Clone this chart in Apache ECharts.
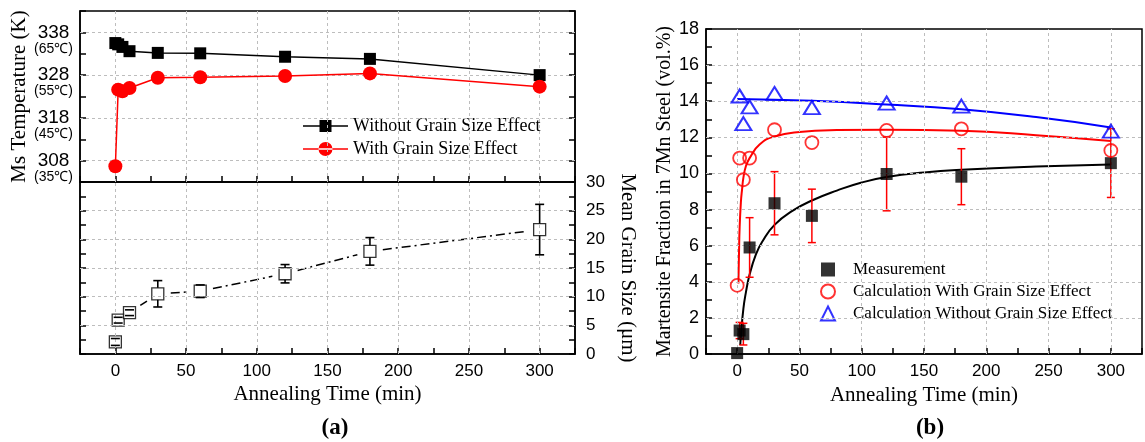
<!DOCTYPE html>
<html>
<head>
<meta charset="utf-8">
<script src="https://cdn.jsdelivr.net/npm/echarts@6/dist/echarts.min.js"></script>
<style>
  html, body { margin: 0; padding: 0; background: #fff; }
  #chart { width: 1145px; height: 442px; }
</style>
</head>
<body>
<div id="chart"></div>
<script>
// Annealing times (min) shared by panel (a) and (b)
const annealTime = [0, 2, 5, 10, 30, 60, 120, 180, 300];

// (a) Ms temperature (K)
const msWithoutGS = [335.5, 335.2, 334.6, 333.6, 333.2, 333.1, 332.3, 331.8, 328.0];
const msWithGS = [306.7, 324.6, 324.2, 325.0, 327.4, 327.5, 327.8, 328.4, 325.3];
const msTickValues = [308, 318, 328, 338];
const msTickCelsius = ['(35℃)', '(45℃)', '(55℃)', '(65℃)'];

// (a) mean grain size (μm) with error
const grainTime = [0, 2, 10, 30, 60, 120, 180, 300];
const grainSize = [2.1, 5.9, 7.2, 10.5, 10.95, 14.0, 17.9, 21.7];
const grainErr = [0.6, 0.5, 0.5, 2.3, 1.1, 1.6, 2.4, 4.4];
const grainTickValues = [0, 5, 10, 15, 20, 25, 30];

// (b) martensite fraction (vol.%)
const measFraction = [0.05, 1.3, 1.1, 5.9, 8.35, 7.65, 9.97, 9.82, 10.57];
const measErr = [0, 0.45, 0.6, 1.65, 1.75, 1.48, 2.04, 1.55, 1.9];
const calcWithGS = [3.8, 10.85, 9.65, 10.85, 12.42, 11.71, 12.38, 12.47, 11.27];
const calcWithoutTime = [2, 5, 10, 30, 60, 120, 180, 300];
const calcWithoutGS = [14.29, 12.76, 13.69, 14.43, 13.65, 13.9, 13.73, 12.34];
const fracTickValues = [0, 2, 4, 6, 8, 10, 12, 14, 16, 18];

// (b) trend curves
const trendMeasTime = [2.5, 3, 5, 7, 10, 15, 20, 30, 45, 60, 80, 100, 120, 150, 180, 240, 300];
const trendMeasVal = [0.5, 1.0, 2.5, 3.4, 4.4, 5.5, 6.2, 7.15, 7.95, 8.5, 9.05, 9.5, 9.8, 10.05, 10.2, 10.38, 10.5];
const trendWithTime = [1, 1.5, 2, 3, 4, 5, 7, 10, 18, 30, 50, 80, 120, 180, 240, 300];
const trendWithVal = [3.9, 5.6, 7.0, 8.4, 9.15, 9.75, 10.4, 10.85, 11.6, 12.05, 12.3, 12.4, 12.42, 12.36, 12.12, 11.8];
const trendWithoutTime = [0, 60, 120, 180, 240, 300];
const trendWithoutVal = [14.12, 14.02, 13.82, 13.55, 13.12, 12.55];

const timeTickValues = [0, 50, 100, 150, 200, 250, 300];

const SANS = '"Liberation Sans", Arial, sans-serif';
const SERIF = '"Liberation Serif", "Times New Roman", serif';
const GRID_LINE = { color: '#bdbdbd', width: 1, type: [3, 3] };

// legend icons: a short line with the marker on it
const ICON_LINE_SQUARE = 'path://M0,6.3h45v1.4h-45z M16.5,1h12v12h-12z';
const ICON_LINE_CIRCLE = 'path://M0,6.3h45v1.4h-45z M15.5,7a7,7 0 1,0 14,0a7,7 0 1,0 -14,0z';

const zip = (xs, ys) => xs.map((x, i) => [x, ys[i]]);
const isTick = (list, v) => list.some(t => Math.abs(t - v) < 1e-6);

function gridLines(yVals, xVals) {
  return {
    silent: true, symbol: ['none', 'none'], animation: false,
    label: { show: false }, lineStyle: GRID_LINE, emphasis: { disabled: true },
    data: yVals.map(v => ({ yAxis: v })).concat(xVals.map(v => ({ xAxis: v })))
  };
}

const tickStyle = () => ({ show: true, inside: true, length: 6, lineStyle: { color: '#000', width: 1.5 } });
const frameLine = () => ({ show: true, onZero: false, lineStyle: { color: '#000', width: 1.5 } });

function timeAxis(gridIndex, labelled) {
  return {
    type: 'value', gridIndex, min: -25, max: 325, interval: 25,
    axisLine: frameLine(), splitLine: { show: false }, axisTick: tickStyle(),
    axisLabel: labelled ? {
      show: true, margin: 9, color: '#000', fontFamily: SANS, fontSize: 17,
      formatter: v => isTick(timeTickValues, v) ? String(Math.round(v)) : ''
    } : { show: false },
    name: labelled ? 'Annealing Time (min)' : '',
    nameLocation: 'middle', nameGap: 30,
    nameTextStyle: { fontFamily: SERIF, fontSize: 21, color: '#000' }
  };
}

// error bars drawn from the marker edge outward (panel a)
function grainErrorBar(params, api) {
  const x = api.value(0), y = api.value(1), e = api.value(2);
  const c = api.coord([x, y]), hi = api.coord([x, y + e]), lo = api.coord([x, y - e]);
  const half = 6, cap = 4.5;
  const style = { stroke: '#000', lineWidth: 1.6 };
  const children = [];
  if (c[1] - hi[1] > half) children.push({ type: 'line', shape: { x1: c[0], y1: c[1] - half, x2: c[0], y2: hi[1] }, style });
  if (lo[1] - c[1] > half) children.push({ type: 'line', shape: { x1: c[0], y1: c[1] + half, x2: c[0], y2: lo[1] }, style });
  children.push({ type: 'line', shape: { x1: c[0] - cap, y1: hi[1], x2: c[0] + cap, y2: hi[1] }, style });
  children.push({ type: 'line', shape: { x1: c[0] - cap, y1: lo[1], x2: c[0] + cap, y2: lo[1] }, style });
  return { type: 'group', children };
}

// dash-dot connector that stops short of each marker
function grainConnector(params, api) {
  const a = api.coord([api.value(0), api.value(1)]);
  const b = api.coord([api.value(2), api.value(3)]);
  const dx = b[0] - a[0], dy = b[1] - a[1], len = Math.hypot(dx, dy);
  const gap = 13;
  if (len <= 2 * gap + 2) return { type: 'group', children: [] };
  const ux = dx / len, uy = dy / len;
  return {
    type: 'line',
    shape: { x1: a[0] + ux * gap, y1: a[1] + uy * gap, x2: b[0] - ux * gap, y2: b[1] - uy * gap },
    style: { stroke: '#000', lineWidth: 1.5, lineDash: [9, 4, 2, 4] }
  };
}

// full error bars (panel b)
function fractionErrorBar(params, api) {
  const x = api.value(0), y = api.value(1), e = api.value(2);
  if (!e) return { type: 'group', children: [] };
  const hi = api.coord([x, y + e]), lo = api.coord([x, y - e]);
  const cap = 4;
  const style = { stroke: '#ff0000', lineWidth: 1.5 };
  return {
    type: 'group', children: [
      { type: 'line', shape: { x1: hi[0], y1: hi[1], x2: lo[0], y2: lo[1] }, style },
      { type: 'line', shape: { x1: hi[0] - cap, y1: hi[1], x2: hi[0] + cap, y2: hi[1] }, style },
      { type: 'line', shape: { x1: lo[0] - cap, y1: lo[1], x2: lo[0] + cap, y2: lo[1] }, style }
    ]
  };
}

const grainSegments = grainTime.slice(0, -1).map((t, i) => [t, grainSize[i], grainTime[i + 1], grainSize[i + 1]]);

const frame = { show: true, borderColor: '#000', borderWidth: 1.5, backgroundColor: 'transparent' };

const option = {
  animation: false,
  backgroundColor: '#fff',
  title: [
    { text: '(a)', left: 330, top: 412, textAlign: 'center',
      textStyle: { fontFamily: SERIF, fontWeight: 'bold', fontSize: 23, color: '#000' } },
    { text: '(b)', left: 925, top: 412, textAlign: 'center',
      textStyle: { fontFamily: SERIF, fontWeight: 'bold', fontSize: 23, color: '#000' } }
  ],
  grid: [
    Object.assign({ left: 80, top: 11, width: 495, height: 171 }, frame),
    Object.assign({ left: 80, top: 182, width: 495, height: 172 }, frame),
    Object.assign({ left: 706, top: 29, width: 437, height: 325 }, frame)
  ],
  legend: [
    {
      data: [
        { name: 'Without Grain Size Effect', icon: ICON_LINE_SQUARE },
        { name: 'With Grain Size Effect', icon: ICON_LINE_CIRCLE }
      ],
      orient: 'vertical', left: 298, top: 112, itemWidth: 45, itemHeight: 14, itemGap: 5,
      textStyle: { fontFamily: SERIF, fontSize: 18, color: '#000' }, selectedMode: false
    },
    {
      data: ['Measurement', 'Calculation With Grain Size Effect', 'Calculation Without Grain Size Effect'],
      orient: 'vertical', left: 815, top: 256, itemWidth: 14, itemHeight: 14, itemGap: 5,
      textStyle: { fontFamily: SERIF, fontSize: 17, color: '#000', padding: [0, 0, 0, 13] },
      selectedMode: false
    }
  ],
  xAxis: [timeAxis(0, false), timeAxis(1, true), timeAxis(2, true)],
  yAxis: [
    {
      type: 'value', gridIndex: 0, min: 303, max: 343, interval: 5,
      axisLine: frameLine(), splitLine: { show: false }, axisTick: tickStyle(),
      axisLabel: {
        margin: 7, padding: [15, 0, 0, 0], color: '#000',
        formatter: v => {
          const i = msTickValues.findIndex(t => Math.abs(t - v) < 1e-6);
          return i < 0 ? '' : '{k|' + msTickValues[i] + '}\n{c|' + msTickCelsius[i] + '}';
        },
        rich: {
          k: { fontFamily: SANS, fontSize: 19, lineHeight: 18, align: 'center', color: '#000' },
          c: { fontFamily: SANS, fontSize: 14, lineHeight: 15, align: 'center', color: '#000' }
        }
      },
      name: 'Ms Temperature (K)', nameLocation: 'middle', nameGap: 50,
      nameTextStyle: { fontFamily: SERIF, fontSize: 21, color: '#000' }
    },
    {
      type: 'value', gridIndex: 0, position: 'right', min: 303, max: 343, interval: 5,
      axisLine: frameLine(), splitLine: { show: false }, axisTick: tickStyle(),
      axisLabel: { show: false }
    },
    {
      type: 'value', gridIndex: 1, min: 0, max: 30, interval: 2.5,
      axisLine: frameLine(), splitLine: { show: false }, axisTick: tickStyle(),
      axisLabel: { show: false }
    },
    {
      type: 'value', gridIndex: 1, position: 'right', min: 0, max: 30, interval: 2.5,
      axisLine: frameLine(), splitLine: { show: false }, axisTick: tickStyle(),
      axisLabel: {
        margin: 11, color: '#000', fontFamily: SANS, fontSize: 17,
        formatter: v => isTick(grainTickValues, v) ? String(Math.round(v)) : ''
      },
      name: 'Mean Grain Size (μm)', nameLocation: 'middle', nameGap: 42, nameRotate: -90,
      nameTextStyle: { fontFamily: SERIF, fontSize: 21, color: '#000' }
    },
    {
      type: 'value', gridIndex: 2, min: 0, max: 18, interval: 1,
      axisLine: frameLine(), splitLine: { show: false }, axisTick: tickStyle(),
      axisLabel: {
        margin: 7, color: '#000', fontFamily: SANS, fontSize: 18,
        formatter: v => isTick(fracTickValues, v) ? String(Math.round(v)) : ''
      },
      name: 'Martensite Fraction in 7Mn Steel (vol.%)', nameLocation: 'middle', nameGap: 31,
      nameTextStyle: { fontFamily: SERIF, fontSize: 20, color: '#000' }
    }
  ],
  series: [
    {
      name: 'Without Grain Size Effect', type: 'line', xAxisIndex: 0, yAxisIndex: 0,
      data: zip(annealTime, msWithoutGS), symbol: 'rect', symbolSize: 12,
      itemStyle: { color: '#000' },
      lineStyle: { color: '#000', width: 1.5 }, z: 5,
      markLine: gridLines(msTickValues, timeTickValues)
    },
    {
      name: 'With Grain Size Effect', type: 'line', xAxisIndex: 0, yAxisIndex: 0,
      data: zip(annealTime, msWithGS), symbol: 'circle', symbolSize: 14,
      itemStyle: { color: '#ff0000' },
      lineStyle: { color: '#ff0000', width: 1.5 }, z: 5
    },
    {
      type: 'custom', xAxisIndex: 1, yAxisIndex: 3, data: grainSegments,
      renderItem: grainConnector, silent: true, z: 3,
      markLine: gridLines(grainTickValues.filter(v => v > 0 && v < 30), timeTickValues)
    },
    {
      name: 'Mean Grain Size', type: 'scatter', xAxisIndex: 1, yAxisIndex: 3,
      data: zip(grainTime, grainSize), symbol: 'rect', symbolSize: 12,
      itemStyle: { color: '#fff', borderColor: '#000', borderWidth: 1.3 }, z: 4
    },
    {
      type: 'custom', xAxisIndex: 1, yAxisIndex: 3,
      data: grainTime.map((t, i) => [t, grainSize[i], grainErr[i]]),
      renderItem: grainErrorBar, silent: true, z: 5
    },
    {
      type: 'line', xAxisIndex: 2, yAxisIndex: 4, data: zip(trendMeasTime, trendMeasVal),
      smooth: 0.5, showSymbol: false, symbol: 'none',
      lineStyle: { color: '#000', width: 2 }, silent: true, z: 3,
      markLine: gridLines(fracTickValues.filter(v => v > 0 && v < 18), timeTickValues)
    },
    {
      type: 'line', xAxisIndex: 2, yAxisIndex: 4, data: zip(trendWithTime, trendWithVal),
      smooth: 0.5, showSymbol: false, symbol: 'none',
      lineStyle: { color: '#ff0000', width: 2 }, silent: true, z: 3
    },
    {
      type: 'line', xAxisIndex: 2, yAxisIndex: 4, data: zip(trendWithoutTime, trendWithoutVal),
      smooth: 0.5, showSymbol: false, symbol: 'none',
      lineStyle: { color: '#0000ff', width: 2 }, silent: true, z: 3
    },
    {
      type: 'custom', xAxisIndex: 2, yAxisIndex: 4,
      data: annealTime.map((t, i) => [t, measFraction[i], measErr[i]]),
      renderItem: fractionErrorBar, silent: true, z: 4
    },
    {
      name: 'Measurement', type: 'scatter', xAxisIndex: 2, yAxisIndex: 4,
      data: zip(annealTime, measFraction), symbol: 'rect', symbolSize: 12,
      itemStyle: { color: '#000' }, z: 6
    },
    {
      name: 'Calculation With Grain Size Effect', type: 'scatter', xAxisIndex: 2, yAxisIndex: 4,
      data: zip(annealTime, calcWithGS), symbol: 'circle', symbolSize: 13,
      itemStyle: { color: 'rgba(255,255,255,0)', borderColor: '#ff0000', borderWidth: 1.8 }, z: 6
    },
    {
      name: 'Calculation Without Grain Size Effect', type: 'scatter', xAxisIndex: 2, yAxisIndex: 4,
      data: zip(calcWithoutTime, calcWithoutGS), symbol: 'triangle', symbolSize: [16, 13],
      itemStyle: { color: 'rgba(255,255,255,0)', borderColor: '#0000ff', borderWidth: 2 }, z: 6
    }
  ]
};

const chart = echarts.init(document.getElementById('chart'), null, { renderer: 'canvas' });
chart.setOption(option);
</script>
</body>
</html>
